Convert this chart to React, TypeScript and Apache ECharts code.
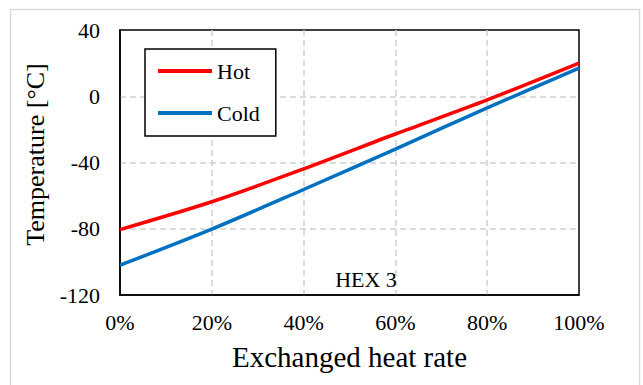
import React, { useEffect, useRef } from "react";
import * as echarts from "echarts";

const xTicks = [0, 20, 40, 60, 80, 100];
const hotValues = [-80.5, -63.7, -43.9, -22.8, -2.2, 20];
const coldValues = [-102, -80.2, -56.3, -31.9, -7, 17];
const seriesNames = ["Hot", "Cold"];
const seriesColors = ["#ff0000", "#0070c0"];

const FONT = '"Liberation Serif", "Times New Roman", serif';

export default function App() {
  const ref = useRef<HTMLDivElement>(null);
  useEffect(() => {
    if (!ref.current) return;
    const chart = echarts.init(ref.current, undefined, { renderer: "svg" });
    const toPairs = (vals: number[]) => xTicks.map((x, i) => [x, vals[i]]);
    chart.setOption({
      animation: false,
      backgroundColor: "#ffffff",
      textStyle: { fontFamily: FONT, color: "#000" },
      grid: {
        left: 120,
        top: 30,
        right: 64,
        bottom: 90,
        show: true,
        borderColor: "#000",
        borderWidth: 1.5,
        backgroundColor: "transparent",
      },
      legend: {
        orient: "vertical",
        left: 145,
        top: 49,
        padding: [10, 16, 11, 13],
        borderColor: "#000",
        borderWidth: 1.5,
        backgroundColor: "#fff",
        itemWidth: 54,
        itemHeight: 4,
        itemGap: 18,
        icon: "rect",
        textStyle: { fontFamily: FONT, fontSize: 22, color: "#000", lineHeight: 24 },
        data: seriesNames,
      },
      xAxis: {
        type: "value",
        min: 0,
        max: 100,
        interval: 20,
        name: "Exchanged heat rate",
        nameLocation: "middle",
        nameGap: 47,
        nameTextStyle: { fontFamily: FONT, fontSize: 29, color: "#000" },
        axisLine: { show: true, onZero: false, lineStyle: { color: "#000", width: 1.5 } },
        axisTick: { show: false },
        axisLabel: {
          formatter: "{value}%",
          fontFamily: FONT,
          fontSize: 22,
          color: "#000",
          margin: 16,
        },
        splitLine: {
          show: true,
          showMinLine: false,
          showMaxLine: false,
          lineStyle: { color: "#d0d0d0", type: [6, 4], width: 1.5 },
        },
      },
      yAxis: {
        type: "value",
        min: -120,
        max: 40,
        interval: 40,
        name: "Temperature [°C]",
        nameLocation: "middle",
        nameGap: 72,
        nameRotate: 90,
        nameTextStyle: {
          fontFamily: FONT,
          fontSize: 26,
          color: "#000",
          padding: [0, 0, 0, 16],
        },
        axisLine: { show: true, onZero: false, lineStyle: { color: "#000", width: 1.5 } },
        axisTick: { show: false },
        axisLabel: { fontFamily: FONT, fontSize: 22, color: "#000", margin: 20 },
        splitLine: {
          show: true,
          showMinLine: false,
          showMaxLine: false,
          lineStyle: { color: "#d0d0d0", type: [6, 4], width: 1.5 },
        },
      },
      series: [
        {
          name: seriesNames[0],
          type: "line",
          data: toPairs(hotValues),
          smooth: 0.3,
          symbol: "none",
          lineStyle: { color: seriesColors[0], width: 3.5 },
          itemStyle: { color: seriesColors[0] },
          z: 3,
        },
        {
          name: seriesNames[1],
          type: "line",
          data: toPairs(coldValues),
          smooth: 0.3,
          symbol: "none",
          lineStyle: { color: seriesColors[1], width: 3.5 },
          itemStyle: { color: seriesColors[1] },
          z: 2,
        },
      ],
      graphic: [
        {
          type: "rect",
          shape: { x: 10.5, y: 9.5, width: 629, height: 400 },
          style: { fill: "none", stroke: "#d9d9d9", lineWidth: 1.5 },
          silent: true,
          z: -1,
        },
        {
          type: "text",
          x: 366,
          y: 279,
          style: {
            text: "HEX 3",
            fontFamily: FONT,
            fontSize: 22,
            fill: "#000",
            align: "center",
            verticalAlign: "middle",
          },
          z: 10,
        },
      ],
    });
    return () => chart.dispose();
  }, []);
  return (
    <div
      ref={ref}
      style={{ position: "absolute", left: 0, top: 0, width: 643, height: 385 }}
    />
  );
}
